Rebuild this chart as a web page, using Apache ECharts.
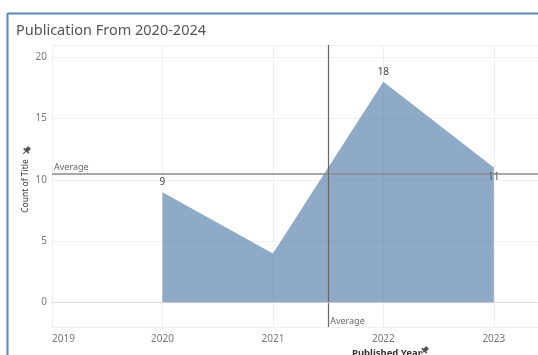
<!DOCTYPE html>
<html>
<head>
<meta charset="utf-8">
<script src="https://cdn.jsdelivr.net/npm/echarts@6/dist/echarts.min.js"></script>
<style>html,body{margin:0;padding:0;background:#fff}#c{width:538px;height:355px}</style>
</head>
<body>
<div id="c"></div>
<script>
var years = [2020, 2021, 2022, 2023];
var counts = [9, 4, 18, 11];
var labelShown = [true, false, true, true];
var xTicks = [2019, 2020, 2021, 2022, 2023];
var yTicks = [0, 5, 10, 15, 20];
var titleText = 'Publication From 2020-2024';

var avgCount = counts.reduce(function(a,b){return a+b;},0) / counts.length;
var avgYear = years.reduce(function(a,b){return a+b;},0) / years.length;

var chart = echarts.init(document.getElementById('c'), null, {renderer:'canvas'});
var FONT = 'Noto Sans';
var data = years.map(function(y,i){
  return {value:[y, counts[i]], label:{show:labelShown[i], position: i === years.length-1 ? 'bottom' : 'top'}};
});

chart.setOption({
  animation:false,
  textStyle:{fontFamily:FONT},
  title:{text:titleText, left:11, top:18, textStyle:{fontSize:14.5, fontWeight:'normal', color:'#555', fontFamily:FONT}},
  grid:{left:52, top:45, right:0, height:282, containLabel:false},
  xAxis:{
    type:'value', min:2019, max:2023.4,
    axisLine:{show:false}, axisTick:{show:false},
    splitLine:{show:true, showMaxLine:false, lineStyle:{color:'#efefef', width:1}},
    axisLabel:{color:'#777', fontSize:10, margin:7, alignMinLabel:'left', showMaxLabel:false,
      formatter:function(v){return xTicks.indexOf(v) >= 0 ? String(v) : '';}},
  },
  yAxis:{
    type:'value', min:-2, max:21,
    name:'Count of Title', nameLocation:'middle', nameGap:22, nameMoveOverlap:false,
    nameTextStyle:{fontSize:8.5, color:'#333'},
    axisLine:{show:false}, axisTick:{show:false},
    splitLine:{show:true, lineStyle:{color:'#efefef', width:1}},
    axisLabel:{color:'#777', fontSize:10, margin:5,
      formatter:function(v){return yTicks.indexOf(v) >= 0 ? String(v) : '';}}
  },
  series:[{
    type:'line',
    data:data,
    symbol:'circle', symbolSize:1, showSymbol:true,
    itemStyle:{color:'rgba(0,0,0,0)'},
    lineStyle:{width:0},
    areaStyle:{color:'#4e79a7', opacity:0.63},
    label:{show:true, color:'#444', fontSize:10, distance:4,
      formatter:function(p){return p.value[1];}},
    z:2,
    markLine:{
      silent:true, symbol:'none',
      data:[
        {yAxis:avgCount, lineStyle:{color:'#8a8a8a', width:1.5, type:'solid'},
          label:{show:true, position:'insideStartTop', formatter:'Average', color:'#666', fontSize:9, distance:2}},
        {xAxis:avgYear, lineStyle:{color:'#666', width:1.2, type:'solid'}, label:{show:false}},
        {yAxis:0, lineStyle:{color:'#c8c8c8', width:1, type:[1,1]}, label:{show:false}}
      ]
    },
    markPoint:{
      silent:true, symbol:'circle', symbolSize:0,
      data:[{coord:[avgYear, -1.55], label:{show:true, position:'right', distance:2, formatter:'Average', color:'#666', fontSize:9}}]
    }
  }],
  graphic:[
    {type:'line', shape:{x1:8, y1:13.5, x2:538, y2:13.5}, style:{stroke:'#5b84c4', lineWidth:2}},
    {type:'line', shape:{x1:7.5, y1:13, x2:7.5, y2:355}, style:{stroke:'#5b84c4', lineWidth:2}},
    {type:'text', left:352, top:348, style:{text:'Published Year', fontSize:9.5, fontWeight:'bold', fill:'#333', fontFamily:FONT}},
    {type:'group', x:424, y:351, rotation:-Math.PI/4, children:[
      {type:'rect', shape:{x:-2, y:-5, width:4, height:5}, style:{fill:'#555'}},
      {type:'rect', shape:{x:-3.5, y:-1, width:7, height:1.5}, style:{fill:'#555'}},
      {type:'line', shape:{x1:0, y1:0, x2:0, y2:4}, style:{stroke:'#555', lineWidth:1}}
    ]},
    {type:'group', x:26, y:151, rotation:-Math.PI/4, children:[
      {type:'rect', shape:{x:-2, y:-5, width:4, height:5}, style:{fill:'#555'}},
      {type:'rect', shape:{x:-3.5, y:-1, width:7, height:1.5}, style:{fill:'#555'}},
      {type:'line', shape:{x1:0, y1:0, x2:0, y2:4}, style:{stroke:'#555', lineWidth:1}}
    ]}
  ]
});
</script>
</body>
</html>
